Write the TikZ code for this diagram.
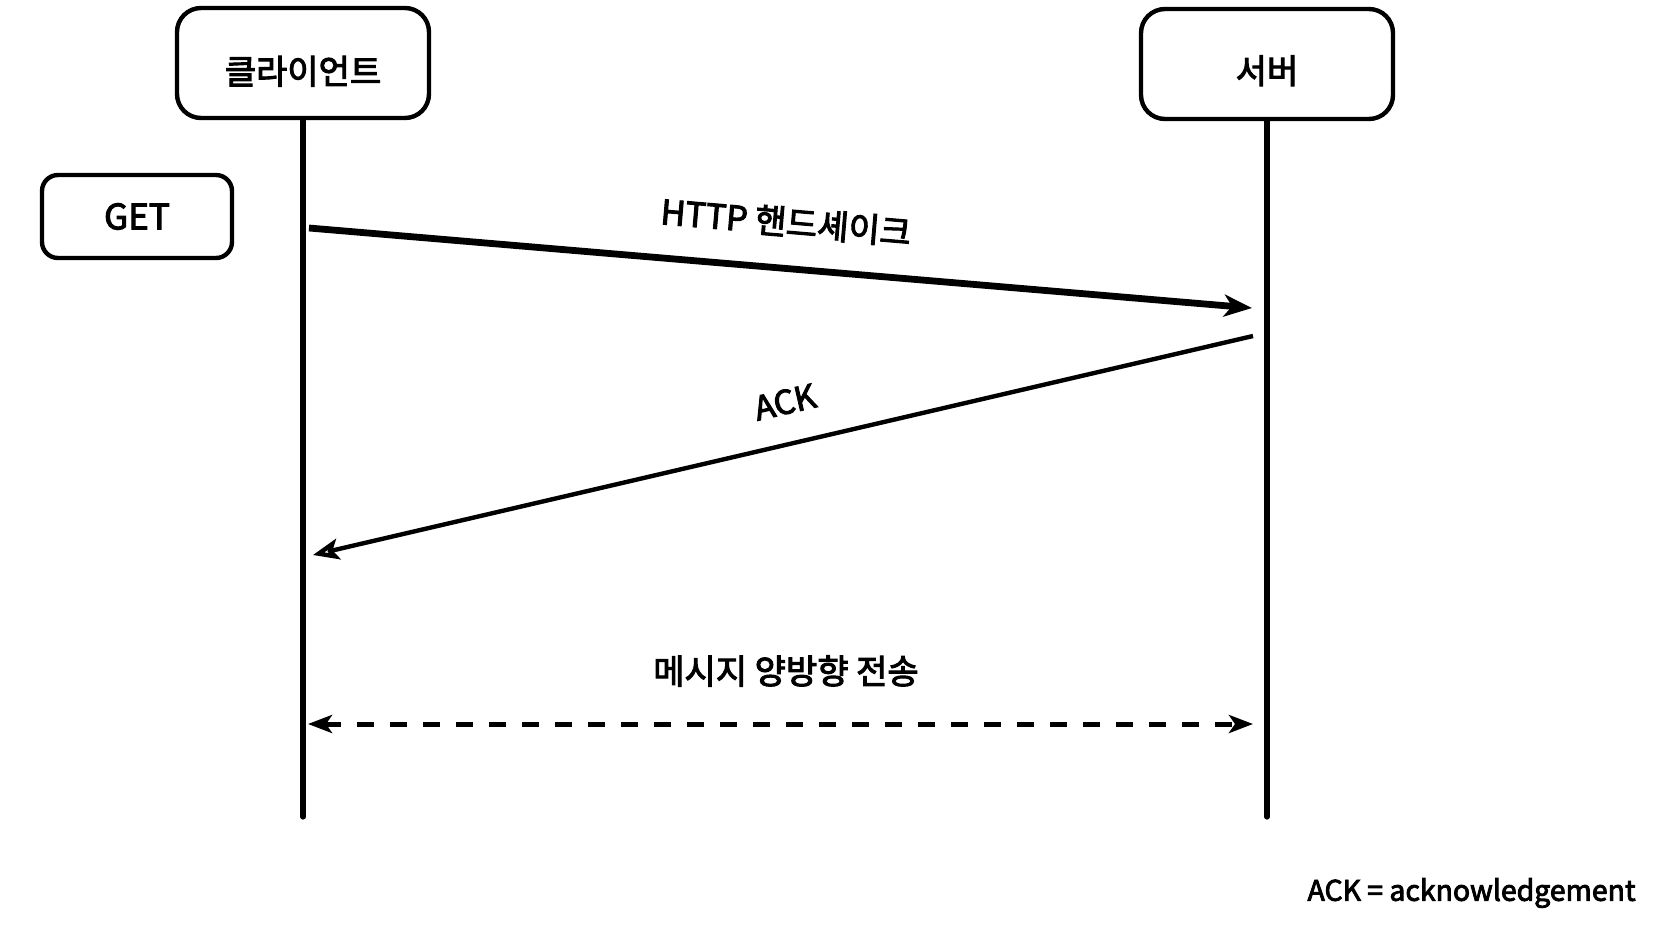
\documentclass[tikz,border=0pt]{standalone}
\usepackage{fontspec}
\setmainfont{Noto Sans CJK KR}
\newfontfamily\medfont{Noto Sans CJK KR}[FakeBold=3]
\usetikzlibrary{arrows.meta}
\begin{document}
\begin{tikzpicture}[x=0.5pt,y=-0.5pt,
  actor/.style={draw,line width=2.2pt,rounded corners=12pt,minimum width=126pt,minimum height=55pt,font=\medfont\fontsize{17}{20}\selectfont,inner sep=0pt,text depth=0pt},
  getbox/.style={draw,line width=2.2pt,rounded corners=8pt,minimum width=95pt,minimum height=41.5pt,font=\medfont\fontsize{17.5}{21}\selectfont,inner sep=0pt},
  life/.style={line width=2.6pt,line cap=round},
  msg/.style={font=\medfont\fontsize{16.5}{19}\selectfont,inner sep=0pt},
  req/.style={line width=3.4pt,-{Stealth[length=14pt,width=11pt,inset=4pt]}},
  ack/.style={line width=2.2pt,-{Stealth[open,length=13pt,width=10.5pt,inset=3pt,line width=2.2pt]}},
  both/.style={line width=2.5pt,dash pattern=on 8.5pt off 8pt,{Stealth[length=12pt,width=9pt,inset=3pt]}-{Stealth[length=12pt,width=9pt,inset=3pt]}}
]
\useasboundingbox (0,0) rectangle (1660,938);
\node[actor,text height=21pt] (client) at (303,63) {클라이언트};
\node[actor,text height=19.5pt] (server) at (1267,64) {서버};
\node[getbox] (get) at (137,216.5) {GET};
\coordinate (cend) at (303,817);
\coordinate (send) at (1267,817);
\draw[life] (client.south) -- (cend);
\draw[life] (server.south) -- (send);
\coordinate (a1s) at (309,228);
\coordinate (a1e) at (1252,308);
\coordinate (a2s) at (1253,336);
\coordinate (a2e) at (313,555);
\coordinate (d1) at (308,724);
\coordinate (d2) at (1253,724);
\draw[req] (a1s) -- (a1e);
\draw[ack] (a2s) -- (a2e);
\draw[both] (d1) -- (d2);
\node[msg,rotate=-4.85,font=\medfont\fontsize{17}{20}\selectfont] (l1) at (786,222) {HTTP 핸드셰이크};
\node[msg,rotate=13] (l2) at (785,402) {ACK};
\node[msg,font=\medfont\fontsize{17}{20}\selectfont] (l3) at (786,671) {메시지 양방향 전송};
\node[msg,anchor=east,font=\medfont\fontsize{14.2}{17}\selectfont] (note) at (1636,893) {ACK = acknowledgement};
\end{tikzpicture}
\end{document}
